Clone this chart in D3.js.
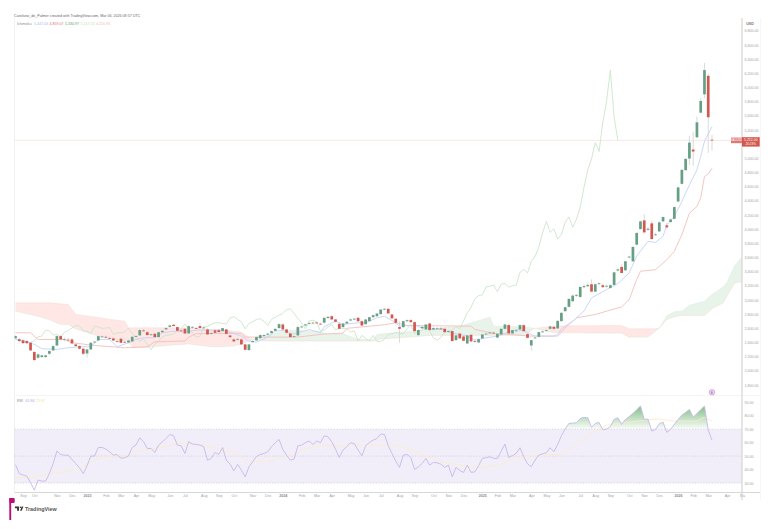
<!DOCTYPE html>
<html><head><meta charset="utf-8">
<style>
html,body{margin:0;padding:0;background:#fff;}
svg{display:block;font-family:"Liberation Sans",Arial,sans-serif;}
</style>
<script src="https://cdn.jsdelivr.net/npm/d3@7/dist/d3.min.js"></script>
</head><body><svg id="chart" width="780" height="529"></svg>
<script>
// Weekly XAUUSD candles, oldest first
const opens=[2460,2445,2430,2420,2396,2265,2185,2195,2195,2241,2288,2358,2490,2435,2440,2443,2373,2349,2312,2245,
2302,2405,2429,2478,2480,2462,2457,2420,2453,2410,2400,2415,2480,2500,2570,2545,2505,2523,2476,2545,
2585,2620,2650,2617,2570,2593,2527,2610,2605,2631,2605,2584,2525,2570,2573,2560,2584,2499,2443,2440,
2443,2373,2293,2405,2430,2462,2492,2510,2532,2565,2603,2654,2584,2527,2480,2500,2615,2640,2665,2672,
2682,2665,2680,2745,2771,2725,2663,2617,2668,2710,2725,2748,2700,2658,2701,2757,2771,2800,2868,2875,
2795,2735,2617,2617,2700,2715,2687,2504,2600,2584,2668,2584,2590,2598,2593,2555,2560,2433,2525,2485,
2386,2508,2418,2400,2457,2515,2530,2538,2470,2513,2593,2645,2527,2560,2584,2645,2518,2358,2460,2480,
2545,2565,2593,2620,2598,2701,2842,2903,2982,3060,3043,3180,3194,3222,3118,3225,3208,3190,3170,3212,
3415,3466,3419,3600,3546,3780,4001,4123,3990,4081,3920,3968,4109,4053,4100,4146,4390,4639,4832,4996,
5123,5296,5643,5902,6164,5262];
const highs=[2500,2465,2445,2435,2410,2280,2245,2225,2222,2290,2360,2500,2510,2470,2465,2460,2390,2365,2325,2310,
2400,2420,2495,2500,2500,2480,2470,2440,2465,2425,2440,2490,2500,2585,2595,2560,2530,2535,2550,2575,
2615,2650,2660,2625,2590,2605,2640,2630,2620,2668,2625,2600,2545,2590,2595,2610,2595,2510,2460,2470,
2460,2385,2380,2430,2490,2520,2515,2540,2570,2600,2665,2675,2595,2540,2500,2630,2640,2665,2690,2690,
2695,2680,2760,2775,2785,2735,2675,2675,2700,2740,2750,2760,2715,2730,2760,2795,2815,2870,2890,2885,
2805,2745,2700,2710,2725,2735,2700,2580,2640,2660,2680,2620,2615,2620,2610,2575,2575,2510,2540,2500,
2505,2520,2440,2455,2520,2540,2555,2555,2530,2600,2665,2660,2580,2590,2655,2655,2530,2440,2480,2550,
2570,2585,2635,2635,2715,2830,2905,3025,3075,3085,3190,3225,3245,3290,3235,3250,3225,3215,3225,3400,
3445,3500,3555,3625,3760,3960,4120,4215,4030,4120,3950,4110,4180,4090,4155,4320,4600,4850,5000,5315,
5375,5590,5850,6345,6197,5329];
const lows=[2445,2410,2385,2380,2280,2135,2170,2180,2180,2225,2280,2345,2430,2420,2415,2375,2340,2300,2225,2185,
2290,2385,2420,2465,2460,2445,2420,2400,2390,2395,2390,2410,2470,2495,2555,2500,2490,2470,2470,2535,
2575,2610,2625,2560,2550,2520,2520,2595,2590,2600,2590,2510,2505,2530,2540,2550,2510,2460,2410,2425,
2365,2285,2280,2395,2420,2450,2480,2500,2525,2555,2595,2575,2525,2470,2460,2490,2600,2630,2650,2655,
2665,2650,2670,2735,2715,2685,2590,2610,2660,2700,2715,2695,2635,2650,2695,2750,2765,2795,2855,2805,
2735,2670,2395,2605,2690,2680,2555,2495,2590,2575,2570,2570,2575,2580,2540,2540,2415,2425,2450,2420,
2375,2410,2400,2392,2450,2505,2520,2525,2460,2505,2585,2525,2520,2545,2575,2555,2460,2285,2445,2470,
2535,2555,2585,2585,2590,2695,2830,2895,2970,3045,3030,3165,3180,3115,3110,3210,3175,3175,3160,3205,
3400,3375,3410,3585,3535,3770,3990,3940,3975,3850,3900,3960,4100,3995,4090,4135,4380,4630,4820,4907,
4893,5285,5635,5850,5076,5108];
const closes=[2490,2420,2390,2390,2288,2152,2232,2218,2218,2279,2349,2490,2443,2445,2432,2387,2349,2312,2241,2302,
2396,2412,2490,2485,2470,2458,2428,2412,2396,2402,2428,2480,2492,2575,2565,2505,2515,2476,2545,2565,
2603,2640,2632,2565,2560,2527,2631,2620,2598,2603,2612,2513,2535,2537,2548,2603,2522,2476,2415,2450,
2373,2297,2373,2420,2476,2504,2505,2525,2560,2592,2659,2584,2537,2476,2488,2617,2625,2655,2675,2680,
2670,2660,2748,2762,2725,2692,2593,2668,2692,2725,2735,2700,2640,2725,2757,2785,2808,2865,2875,2810,
2740,2678,2593,2701,2715,2687,2560,2575,2620,2654,2575,2602,2600,2590,2546,2562,2420,2500,2457,2424,
2500,2415,2410,2447,2513,2525,2540,2530,2522,2593,2654,2527,2574,2570,2645,2560,2466,2433,2470,2546,
2555,2572,2626,2593,2705,2818,2898,3015,3062,3072,3184,3195,3212,3118,3222,3235,3180,3200,3208,3390,
3432,3381,3546,3612,3748,3945,4109,3954,4005,3860,3925,4095,4170,4025,4135,4311,4588,4836,4991,5221,
5095,5507,5808,6244,5578,5252];

// Ichimoku conversion and base lines as [bar, price] vertices
const tenkan=[[0,2443],[2,2429],[5,2373],[7,2312],[11,2302],[14,2326],[17,2340],[20,2340],[22,2443],[25,2443],[27,2340],[30,2396],[32,2443],[34,2466],[37,2466],[39,2537],[42,2560],[45,2546],[48,2574],[51,2574],[55,2574],[57,2546],[60,2490],[62,2420],[64,2405],[67,2476],[69,2560],[72,2574],[73,2513],[75,2537],[78,2584],[81,2537],[82,2621],[85,2701],[87,2654],[91,2678],[93,2678],[96,2748],[98,2771],[100,2710],[102,2631],[106,2640],[108,2607],[109,2630],[110,2584],[114,2584],[115,2546],[120,2490],[122,2433],[125,2466],[128,2490],[133,2584],[135,2560],[137,2513],[138,2490],[143,2490],[144,2513],[145,2593],[148,2701],[151,2842],[153,3029],[157,3147],[160,3231],[163,3381],[165,3620],[168,3827],[170,3813],[172,3898],[173,4062],[175,4179],[177,4390],[179,4625],[181,4836],[182,5024],[183,5240],[185,5447]];
const kijun=[[0,2537],[4,2537],[6,2443],[13,2443],[15,2396],[21,2358],[29,2326],[35,2340],[37,2410],[45,2420],[46,2475],[48,2525],[60,2530],[61,2476],[75,2476],[82,2520],[87,2532],[88,2600],[98,2650],[101,2678],[104,2640],[121,2630],[122,2584],[127,2530],[137,2490],[144,2490],[146,2607],[149,2747],[154,2795],[157,2842],[161,2902],[163,3006],[165,3287],[166,3405],[170,3428],[173,3569],[175,3687],[177,3921],[179,4226],[181,4320],[182,4442],[183,4742],[184,4780],[185,4859]];

// Cloud boundaries, projected ahead of the last bar
const cloudBars=[0,6,9,12,14,16,22,26,29,30,31,34,42,46,52,54,58,60,63,66,70,72,81,83,87,91,95,96,97,106,110,118,124,126,127,135,138,143,146,161,163,168,170,171,173,175,177,179,183,185,186,188,189,191,193];
const spanA=[2842,2771,2720,2654,2654,2590,2490,2443,2425,2420,2330,2326,2365,2380,2340,2340,2350,2380,2443,2490,2540,2574,2555,2513,2522,2443,2435,2513,2520,2560,2590,2630,2724,2757,2630,2620,2600,2537,2537,2530,2475,2476,2560,2603,2772,2833,2842,2926,2983,3077,3110,3185,3250,3480,3607];
const spanB=[2959,2959,2959,2945,2936,2795,2752,2720,2701,2607,2607,2607,2607,2600,2584,2584,2560,2540,2443,2420,2420,2420,2420,2420,2420,2420,2420,2430,2450,2480,2500,2500,2500,2500,2500,2500,2600,2630,2635,2640,2595,2593,2593,2603,2725,2762,2781,2781,2781,2875,2905,2959,3053,3241,3255];

// Weekly RSI and its moving average
const rsi=[43.6,37,36,35,30.4,24.7,32.2,31.4,31.4,37,44.5,53.7,51.2,50.7,50.7,47.5,44.5,41.3,37,42.8,
50,50,56.4,56.4,55.2,53.2,50.7,51.2,48.3,48.8,50,56.4,58.2,63.6,60.7,55.7,55.7,52.7,58.2,60.7,
63.1,66.1,65.1,58.2,57.7,52,60.7,59,58.7,58.2,57,47,48.3,52.7,51.2,56.4,47,44,39,43.8,
39.6,34.6,42,45.8,49.7,51.2,52,53.2,57,59.9,62.4,55,50.7,47,47.8,57.7,58.2,60,61.2,58.7,
61.2,60,65.1,64.4,60.7,55.2,49,54.5,57,60,59.2,54.5,50.2,57.7,60.1,61.9,63.1,66.4,66.1,57.7,
52,46.3,41.6,50.7,51.2,49,40.1,42,44.5,48.3,43.3,45.3,45,44,41.6,43.3,34.6,41.6,39.3,37.9,
43.3,37.9,38.3,42.8,48.3,48.8,49.5,48.3,48.3,53.7,58.9,49,50.3,52,56.2,49.5,44.3,42.1,47,50.8,
51.7,52.5,56.2,53.2,58.7,65.1,70.1,74.3,74.5,74.8,78,78.8,78.5,71.3,74.3,75,69.6,70.1,71.8,77.3,
78.5,73.6,77.3,79.5,81.7,84.5,87.2,77.3,77.5,68.6,69.8,74,75.3,67.6,69.8,73.6,77.3,80.5,82.5,84.7,
78.8,81.7,84.5,87.2,69.3,61.84];
const rsiMa=[[0,33.9],[5,34.4],[9,37],[14,38.8],[18,42],[21,47],[24,49.5],[28,49],[30,50.2],[33,54],[37,55.7],[40,57],[43,59.4],[45,59.2],[50,58.2],[53,56.2],[58,52],[61,47.5],[63,45.8],[67,46.3],[70,48.3],[74,50.7],[76,54.5],[80,57.4],[83,58.2],[86,57.4],[89,58.9],[92,58.2],[98,58.2],[100,58.7],[105,55.2],[109,50],[114,45],[120,42.6],[124,41.3],[129,43.8],[133,48.8],[137,50.3],[145,51.3],[148,57],[153,66.9],[157,73],[162,74.8],[168,77],[171,77.5],[175,76],[181,76],[183,78.8],[185,75.97]];

const priceTicks=[6800,6600,6400,6200,6000,5800,5600,5400,5000,4800,4600,4400,4200,4000,3800,3600,3400,3200,3000,2800,2600,2400,2200,2000,1800];
const rsiTicks=[90,80,70,60,50,40,30];
const monthBars=[2,5,11,15,19,24,28,32,36,41,45,50,54,58,63,67,71,76,80,84,89,93,97,102,106,111,115,119,124,128,132,137,141,145,150,154,158,163,167,171,176,180,184,189,193];
const monthNames=["Sep","Oct","Nov","Dec","2023","Feb","Mar","Apr","May","Jun","Jul","Aug","Sep","Oct","Nov","Dec","2024","Feb","Mar","Apr","May","Jun","Jul","Aug","Sep","Oct","Nov","Dec","2025","Feb","Mar","Apr","May","Jun","Jul","Aug","Sep","Oct","Nov","Dec","2026","Feb","Mar","Apr","Ma"];
const legendValues=[["5,447.03","#9fb7f3"],["4,859.07","#d9736f"],["5,330.97","#5f9e6b"],["5,157.53","#bfe0c2"],["4,216.93","#f2b9b5"]];

const svg=d3.select("#chart");
const plotL=14.5, plotR=742, plotT=18, paneB=395, rsiB=492;
const x=d3.scaleLinear().domain([0,185]).range([15.5,712]);
const y=d3.scaleLinear().domain([1800,6800]).range([385,30.7]);
const ry=d3.scaleLinear().domain([30,90]).range([483,402.3]);

const defs=svg.append("defs");
defs.append("clipPath").attr("id","plot").append("rect").attr("x",plotL).attr("y",plotT).attr("width",plotR-plotL).attr("height",paneB-plotT);
defs.append("clipPath").attr("id","over").append("rect").attr("x",plotL).attr("y",395).attr("width",plotR-plotL).attr("height",ry(70)-395);
const grad=defs.append("linearGradient").attr("id","overFill").attr("gradientUnits","userSpaceOnUse").attr("x1",0).attr("x2",0).attr("y1",ry(88)).attr("y2",ry(70));
grad.append("stop").attr("offset",0).attr("stop-color","#43a047").attr("stop-opacity",0.7);
grad.append("stop").attr("offset",1).attr("stop-color","#43a047").attr("stop-opacity",0.02);

// Frame lines of the panes
const frame=svg.append("g").attr("stroke","#f1f1f1").attr("stroke-width",1);
frame.append("line").attr("x1",plotL).attr("x2",plotL).attr("y1",plotT).attr("y2",rsiB);
frame.append("line").attr("x1",plotL).attr("x2",760).attr("y1",395.5).attr("y2",395.5).attr("stroke","#f5f5f5");
frame.append("line").attr("x1",760.5).attr("x2",760.5).attr("y1",18).attr("y2",500).attr("stroke","#f7f7f7");

// Cloud
const cloudRows=cloudBars.map((b,i)=>({b,a:spanA[i],s:spanB[i]}));
const main=svg.append("g").attr("clip-path","url(#plot)");
const cloud=d3.area().x(d=>x(d.b)).y0(d=>y(d.a)).y1(d=>y(d.s));
main.append("path").attr("d",cloud.defined(d=>d.s>=d.a)(cloudRows)).attr("fill","#f44336").attr("fill-opacity",0.13);
main.append("path").attr("d",cloud.defined(d=>d.a>=d.s)(cloudRows)).attr("fill","#43a047").attr("fill-opacity",0.12);
const spanLine=d3.line().x(d=>x(d.b));
main.append("path").attr("d",spanLine.y(d=>y(d.a))(cloudRows)).attr("fill","none").attr("stroke","#d5e8d5").attr("stroke-width",0.6).attr("opacity",.7);
main.append("path").attr("d",spanLine.y(d=>y(d.s))(cloudRows)).attr("fill","none").attr("stroke","#f8d5d2").attr("stroke-width",0.6).attr("opacity",.7);

// Price level of the last close
main.append("line").attr("x1",plotL).attr("x2",plotR).attr("y1",y(closes[185])).attr("y2",y(closes[185]))
  .attr("stroke","#f3b8b3").attr("stroke-width",0.7).attr("stroke-dasharray","1 1");

// Ichimoku lines
const vertexLine=d3.line().x(d=>x(d[0])).y(d=>y(d[1]));
main.append("path").attr("d",d3.line().x((d,i)=>x(i)).y(d=>y(d))(closes.slice(25))).attr("fill","none").attr("stroke","#cbe5cb").attr("stroke-width",0.9);
main.append("path").attr("d",vertexLine(kijun)).attr("fill","none").attr("stroke","#f3c0bc").attr("stroke-width",0.9);
main.append("path").attr("d",vertexLine(tenkan)).attr("fill","none").attr("stroke","#c3d2fa").attr("stroke-width",0.9);

// Candles
const bars=d3.range(opens.length);
const candle=main.append("g").selectAll("g").data(bars).join("g");
candle.append("line").attr("x1",i=>x(i)).attr("x2",i=>x(i)).attr("y1",i=>y(highs[i])).attr("y2",i=>y(lows[i]))
  .attr("stroke","#d2d2d2").attr("stroke-width",0.8);
candle.append("rect").attr("x",i=>x(i)-1.35).attr("width",2.7)
  .attr("y",i=>y(Math.max(opens[i],closes[i])))
  .attr("height",i=>Math.max(0.8,Math.abs(y(opens[i])-y(closes[i]))))
  .attr("fill",i=>closes[i]>=opens[i]?"#659f84":"#d2574e");

// RSI pane
const rsiG=svg.append("g");
rsiG.append("rect").attr("x",plotL).attr("width",plotR-plotL).attr("y",ry(70)).attr("height",ry(30)-ry(70)).attr("fill","#7e57c2").attr("fill-opacity",0.1);
rsiTicks.filter(t=>t===70||t===50||t===30).forEach(t=>{
  rsiG.append("line").attr("x1",plotL).attr("x2",plotR).attr("y1",ry(t)).attr("y2",ry(t))
    .attr("stroke","#c4bed0").attr("stroke-width",0.6).attr("stroke-dasharray","1.2 1.6");
});
rsiG.append("path").attr("clip-path","url(#over)")
  .attr("d",d3.area().x((d,i)=>x(i)).y0(ry(70)).y1(d=>ry(d))(rsi)).attr("fill","url(#overFill)");
rsiG.append("path").attr("d",d3.line().x(d=>x(d[0])).y(d=>ry(d[1]))(rsiMa)).attr("fill","none").attr("stroke","#fbeccb").attr("stroke-width",0.9);
rsiG.append("path").attr("d",d3.line().x((d,i)=>x(i)).y(d=>ry(d))(rsi)).attr("fill","none").attr("stroke","#c5b9e8").attr("stroke-width",0.9);

// Axes
function styleAxis(g){
  g.select(".domain").remove();
  g.selectAll(".tick line").remove();
  g.selectAll("text").attr("fill","#a2a2a2").attr("font-size",3.6);
}
svg.append("g").attr("transform",`translate(${plotR+2.4},0)`)
  .call(d3.axisRight(y).tickValues(priceTicks).tickSize(0).tickPadding(0).tickFormat(d3.format(",.2f"))).call(styleAxis);
svg.append("g").attr("transform",`translate(${plotR+2.4},0)`)
  .call(d3.axisRight(ry).tickValues(rsiTicks).tickSize(0).tickPadding(0).tickFormat(d3.format(".2f"))).call(styleAxis);
const xAxis=svg.append("g").attr("transform",`translate(0,${rsiB})`)
  .call(d3.axisBottom(x).tickValues(monthBars).tickSize(0).tickPadding(2.6).tickFormat(i=>monthNames[monthBars.indexOf(i)])).call(styleAxis);
xAxis.selectAll("text").filter(i=>/^20/.test(monthNames[monthBars.indexOf(i)])).attr("font-weight","bold").attr("fill","#8a8a8a");
svg.append("line").attr("x1",plotR).attr("x2",plotR).attr("y1",18).attr("y2",500).attr("stroke","#d8d8d8").attr("stroke-width",1.3);
svg.append("line").attr("x1",plotL).attr("x2",760).attr("y1",rsiB+.5).attr("y2",rsiB+.5).attr("stroke","#d8d8d8").attr("stroke-width",1);
svg.append("text").attr("x",750).attr("y",25).attr("text-anchor","middle").attr("font-size",3.6).attr("font-weight","bold").attr("fill","#777").text("USD");

// Last price tags
const ly=y(closes[185]);
svg.append("rect").attr("x",731).attr("y",ly-2.8).attr("width",11).attr("height",5.6).attr("fill","#de7a71");
svg.append("text").attr("x",736.5).attr("y",ly+1.1).attr("text-anchor","middle").attr("font-size",3).attr("fill","#fff").text("XAUUSD");
svg.append("rect").attr("x",742).attr("y",ly-3.2).attr("width",17.7).attr("height",9.4).attr("fill","#d2574e");
svg.append("text").attr("x",750.8).attr("y",ly+0.6).attr("text-anchor","middle").attr("font-size",3.5).attr("fill","#fff").text(d3.format(",.2f")(closes[185]));
svg.append("text").attr("x",750.8).attr("y",ly+4.9).attr("text-anchor","middle").attr("font-size",3.1).attr("fill","#fff").text("20:23%");

// Event marker above the RSI pane
svg.append("circle").attr("cx",712).attr("cy",392.3).attr("r",2.8).attr("fill","#ecd7f2").attr("stroke","#c58bd8").attr("stroke-width",.6);
svg.append("text").attr("x",712).attr("y",393.6).attr("text-anchor","middle").attr("font-size",3.6).attr("fill","#9c4fb6").text("E");

// Header and legends
svg.append("text").attr("x",14).attr("y",17.3).attr("font-size",3.65).attr("fill","#666").text("Carolsew_de_Palmer created with TradingView.com, Mar 06, 2026 08:57 UTC");
const ichi=svg.append("text").attr("x",17).attr("y",25.2).attr("font-size",3.6).attr("fill","#888");
ichi.append("tspan").text("Ichimoku ");
legendValues.forEach(([t,c])=>ichi.append("tspan").attr("fill",c).attr("dx",1.5).text(t));
const rl=svg.append("text").attr("x",17).attr("y",402.2).attr("font-size",3.6).attr("fill","#888");
rl.append("tspan").text("RSI ");
rl.append("tspan").attr("fill","#b3a3e2").attr("dx",1.5).text(d3.format(".2f")(rsi[185]));
rl.append("tspan").attr("fill","#f3dc94").attr("dx",1.5).text(d3.format(".2f")(rsiMa[rsiMa.length-1][1]));

// Brand strip at the foot
svg.append("rect").attr("x",9.3).attr("y",498).attr("width",1.9).attr("height",22).attr("fill","#b8107a");
svg.append("rect").attr("x",9.3).attr("y",498).attr("width",5.4).attr("height",5).attr("rx",1).attr("fill","#b8107a");
const logo=svg.append("g").attr("fill","#333");
logo.append("path").attr("d","M15 506.4h4v4.4h-1.9v-2.6h-2.1zM20.1 510.8l1.6-4.4h1.7l-1.7 4.4z");
logo.append("circle").attr("cx",20.4).attr("cy",507.3).attr("r",.8);
svg.append("text").attr("x",25).attr("y",510.7).attr("font-size",5.4).attr("font-weight","bold").attr("fill","#555").text("TradingView");
</script></body></html>
